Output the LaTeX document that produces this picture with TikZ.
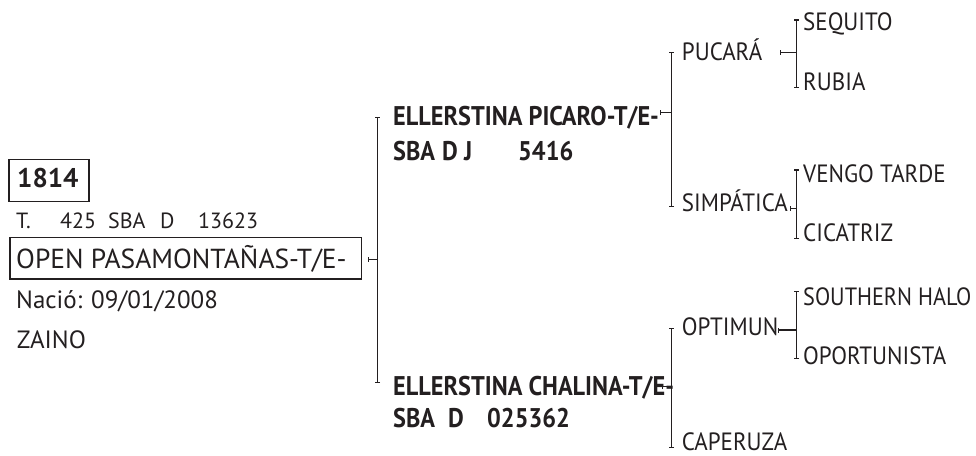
\documentclass[tikz,border=0pt]{standalone}
\usepackage{fontspec}
\setmainfont{PT Sans}
\newfontfamily\semibn[FakeStretch=0.9]{PT Sans}
\newfontfamily\leaffont[FakeStretch=0.92]{PT Sans}
\newfontfamily\leaffontn[FakeStretch=0.89]{PT Sans}
\usetikzlibrary{arrows.meta}
\definecolor{ink}{HTML}{231F20}
\begin{document}
\begin{tikzpicture}[x=1pt,y=-1pt,
  txt/.style={anchor=base west,inner sep=0pt,text=ink},
  big/.style={txt,font=\fontsize{27.5}{30}\selectfont},
  mid/.style={txt,font=\fontsize{25}{28}\selectfont},
  small/.style={txt,font=\fontsize{22}{25}\selectfont},
  boldn/.style={txt,font=\fontsize{27}{30}\semibn\bfseries},
  leaf/.style={txt,font=\fontsize{25}{28}\leaffont},
  ln/.style={draw=ink,line width=1.2pt},
  vline/.style={ln,{Bar[width=5pt,line width=1.2pt]}-{Bar[width=5pt,line width=1.2pt]}},
  tick/.style={ln,{Bar[width=5pt,line width=1.2pt]}-}
]
\useasboundingbox (0,0) rectangle (976,455);
% root info
\node[draw=ink,line width=1.2pt,anchor=north west,minimum width=80pt,minimum height=41.7pt,inner sep=0pt] (box1814) at (8.3,159) {};
\node[boldn,font=\fontsize{27}{30}\selectfont\bfseries] (n1814) at (17,187.7) {1814};
\node[small] (reg) at (16,228) {\rlap{T.}\hspace{44pt}\rlap{425}\hspace{48pt}\rlap{SBA}\hspace{52pt}\rlap{D}\hspace{38pt}13623};
\node[draw=ink,line width=1.2pt,anchor=north west,minimum width=351.7pt,minimum height=41.6pt,inner sep=0pt] (boxopen) at (9.3,236.7) {};
\node[big] (open) at (16,268) {OPEN PASAMONTAÑAS-T/E-};
\node[mid] (nacio) at (16,308.3) {Nació: 09/01/2008};
\node[mid] (zaino) at (16.7,348.3) {ZAINO};
% level 1
\coordinate (r0) at (368,259.3);
\coordinate (rt) at (377.7,116.7);
\coordinate (rb) at (377.7,383.3);
\draw[tick] (r0) -- (r0 -| rt);
\draw[vline] (rt) -- (rb);
\node[boldn] (picaro) at (393,125) {ELLERSTINA PICARO-T/E-};
\node[boldn] (sba1) at (393,160) {\rlap{SBA}\hspace{49pt}\rlap{D J}\hspace{76pt}5416};
\node[boldn] (chalina) at (393,395) {ELLERSTINA CHALINA-T/E-};
\node[boldn] (sba2) at (393,427) {\rlap{SBA}\hspace{55pt}\rlap{D}\hspace{39pt}025362};
% level 2
\coordinate (p0) at (660,112.7);
\coordinate (pt) at (671.7,51.7);
\coordinate (pb) at (671.7,206.7);
\draw[tick] (p0) -- (p0 -| pt);
\draw[vline] (pt) -- (pb);
\coordinate (c0) at (662,386.7);
\coordinate (ct) at (671.7,327.7);
\coordinate (cb) at (671.7,448.3);
\draw[tick] (c0) -- (c0 -| ct);
\draw[vline] (ct) -- (cb);
\node[leaf] (pucara) at (681.7,60) {PUCARÁ};
\node[leaf] (simpatica) at (681.7,211.7) {SIMPÁTICA};
\node[leaf] (optimun) at (681.7,335) {OPTIMUN};
\node[leaf] (caperuza) at (681.7,450.5) {CAPERUZA};
% level 3
\coordinate (a0) at (780,52.3);
\coordinate (at) at (796.7,19.3);
\coordinate (ab) at (796.7,88.3);
\draw[tick] (a0) -- (a0 -| at);
\draw[vline] (at) -- (ab);
\coordinate (b0) at (790,208.3);
\coordinate (bt) at (796.7,169.3);
\coordinate (bb) at (796.7,239);
\draw[tick] (b0) -- (b0 -| bt);
\draw[vline] (bt) -- (bb);
\coordinate (d0) at (778,330);
\coordinate (dt) at (796.7,290.7);
\coordinate (db) at (796.7,359.3);
\draw[tick] (d0) -- (d0 -| dt);
\draw[vline] (dt) -- (db);
\node[leaf] (sequito) at (803,30) {SEQUITO};
\node[leaf] (rubia) at (803,90) {RUBIA};
\node[leaf] (vengo) at (803,182.7) {VENGO TARDE};
\node[leaf] (cicatriz) at (803,241.7) {CICATRIZ};
\node[leaf,font=\fontsize{25}{28}\leaffontn] (southern) at (803,305) {SOUTHERN HALO};
\node[leaf] (oportunista) at (803,364) {OPORTUNISTA};
\end{tikzpicture}
\end{document}
